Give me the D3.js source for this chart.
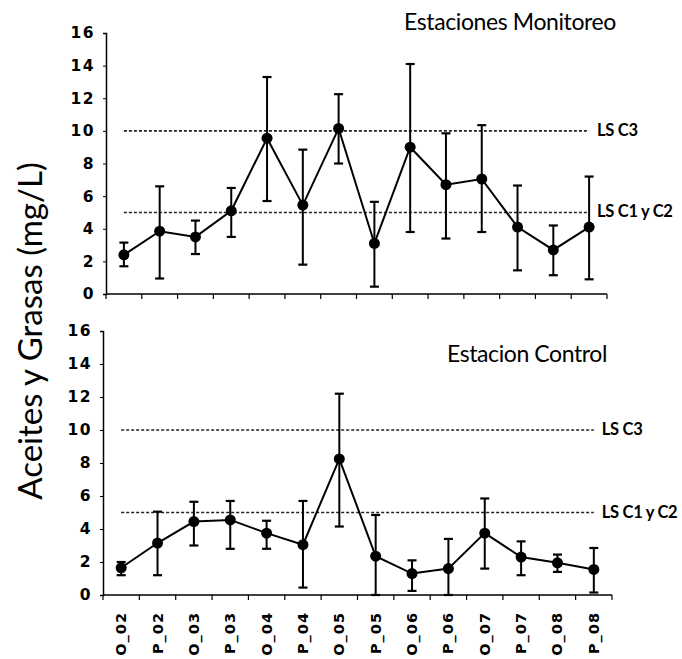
<!DOCTYPE html>
<html><head><meta charset="utf-8">
<script src="https://cdn.jsdelivr.net/npm/d3@7"></script>
<style>
body{margin:0;background:#fff;}
svg{display:block;}
</style></head>
<body>
<svg id="chart" width="682" height="659"></svg>
<script>
const categories = ["O_02","P_02","O_03","P_03","O_04","P_04","O_05","P_05","O_06","P_06","O_07","P_07","O_08","P_08"];
const monitoreoMean  = [2.4, 3.85, 3.5, 5.1, 9.55, 5.45, 10.15, 3.1, 9.0, 6.7, 7.05, 4.1, 2.7, 4.1];
const monitoreoUpper = [3.15, 6.6, 4.5, 6.5, 13.3, 8.85, 12.25, 5.65, 14.1, 9.85, 10.35, 6.65, 4.2, 7.2];
const monitoreoLower = [1.7, 0.95, 2.45, 3.5, 5.7, 1.8, 8.0, 0.45, 3.8, 3.4, 3.8, 1.45, 1.15, 0.9];
const controlMean  = [1.65, 3.15, 4.45, 4.55, 3.75, 3.05, 8.25, 2.35, 1.3, 1.6, 3.75, 2.3, 1.95, 1.55];
const controlUpper = [2.0, 5.05, 5.65, 5.7, 4.5, 5.7, 12.2, 4.85, 2.1, 3.4, 5.85, 3.25, 2.45, 2.85];
const controlLower = [1.2, 1.2, 3.0, 2.8, 2.8, 0.45, 4.15, 0.0, 0.25, 0.0, 1.6, 1.2, 1.4, 0.15];
const limitValues = [10, 5];
const limitLabels = ["LS C3", "LS C1 y C2"];
const yTicks = [0, 2, 4, 6, 8, 10, 12, 14, 16];
const titles = ["Estaciones Monitoreo", "Estacion Control"];
const yLabel = "Aceites y Grasas (mg/L)";

const svg = d3.select("#chart");

const panels = [
  {mean: monitoreoMean, up: monitoreoUpper, lo: monitoreoLower, x0: 106, x1: 607, yb: 294, yt: 33,
   title: titles[0], tx: 510, ty: 30, showX: false},
  {mean: controlMean, up: controlUpper, lo: controlLower, x0: 103, x1: 612, yb: 595, yt: 331,
   title: titles[1], tx: 527, ty: 362, showX: true}
];

panels.forEach(p => {
  const x = d3.scaleBand().domain(categories).range([p.x0, p.x1]);
  const y = d3.scaleLinear().domain([0, 16]).range([p.yb, p.yt]);
  const g = svg.append("g");

  // y axis
  const ya = g.append("g").attr("transform", `translate(${p.x0},0)`)
    .call(d3.axisLeft(y).tickValues(yTicks).tickSize(3).tickPadding(8));
  ya.select(".domain").attr("stroke", "#000").attr("stroke-width", 1.5);
  ya.selectAll(".tick line").attr("stroke", "#000");
  ya.selectAll("text").attr("font-family", "DejaVu Sans").attr("font-weight", "bold")
    .attr("font-size", 15.5).attr("letter-spacing", 1.5).attr("fill", "#000");

  // x axis with ticks at band boundaries
  const xa = g.append("g").attr("transform", `translate(0,${p.yb})`);
  xa.append("line").attr("x1", p.x0).attr("x2", p.x1).attr("stroke", "#000").attr("stroke-width", 1.5);
  const bounds = categories.map(c => x(c)).concat([p.x1]);
  xa.selectAll("line.tk").data(bounds).join("line").attr("class", "tk")
    .attr("x1", d => d).attr("x2", d => d).attr("y1", 0).attr("y2", 5)
    .attr("stroke", "#000").attr("stroke-width", 1.2);
  if (p.showX) {
    xa.selectAll("text").data(categories).join("text")
      .attr("transform", d => `translate(${x(d) + x.bandwidth() / 2 + 5},17) rotate(-90)`)
      .attr("text-anchor", "end")
      .attr("font-family", "DejaVu Sans").attr("font-weight", "bold")
      .attr("font-size", 14.5).attr("letter-spacing", 1)
      .text(d => d);
  }

  const cx = d => x(d) + x.bandwidth() / 2;
  const xFirst = cx(categories[0]), xLast = cx(categories[categories.length - 1]);

  // limit lines
  limitValues.forEach((v, i) => {
    g.append("line").attr("x1", xFirst).attr("x2", xLast)
      .attr("y1", y(v)).attr("y2", y(v))
      .attr("stroke", "#222").attr("stroke-width", 1.6).attr("stroke-dasharray", "3,2");
    g.append("text").attr("x", xLast + 8).attr("y", y(v) + 5)
      .attr("font-family", "Lato").attr("font-weight", "bold").attr("font-size", 16.5)
      .attr("letter-spacing", -0.3)
      .text(limitLabels[i]);
  });

  // error bars
  categories.forEach((c, i) => {
    g.append("line").attr("x1", cx(c)).attr("x2", cx(c))
      .attr("y1", y(p.up[i])).attr("y2", y(p.lo[i]))
      .attr("stroke", "#000").attr("stroke-width", 2);
    [p.up[i], p.lo[i]].forEach(v => {
      g.append("line").attr("x1", cx(c) - 4.5).attr("x2", cx(c) + 4.5)
        .attr("y1", y(v)).attr("y2", y(v))
        .attr("stroke", "#000").attr("stroke-width", 2.2);
    });
  });

  // line
  const line = d3.line().x((d, i) => cx(categories[i])).y(d => y(d));
  g.append("path").datum(p.mean).attr("d", line)
    .attr("fill", "none").attr("stroke", "#000").attr("stroke-width", 2);
  g.selectAll("circle").data(p.mean).join("circle")
    .attr("cx", (d, i) => cx(categories[i])).attr("cy", d => y(d)).attr("r", 5.5)
    .attr("fill", "#000");

  // title
  g.append("text").attr("x", p.tx).attr("y", p.ty).attr("text-anchor", "middle")
    .attr("font-family", "Lato").attr("font-size", 23).attr("letter-spacing", -0.4)
    .text(p.title);
});

svg.append("text")
  .attr("transform", "translate(42,331) rotate(-90)")
  .attr("text-anchor", "middle")
  .attr("font-family", "Lato").attr("font-size", 33)
  .text(yLabel);
</script>
</body></html>
